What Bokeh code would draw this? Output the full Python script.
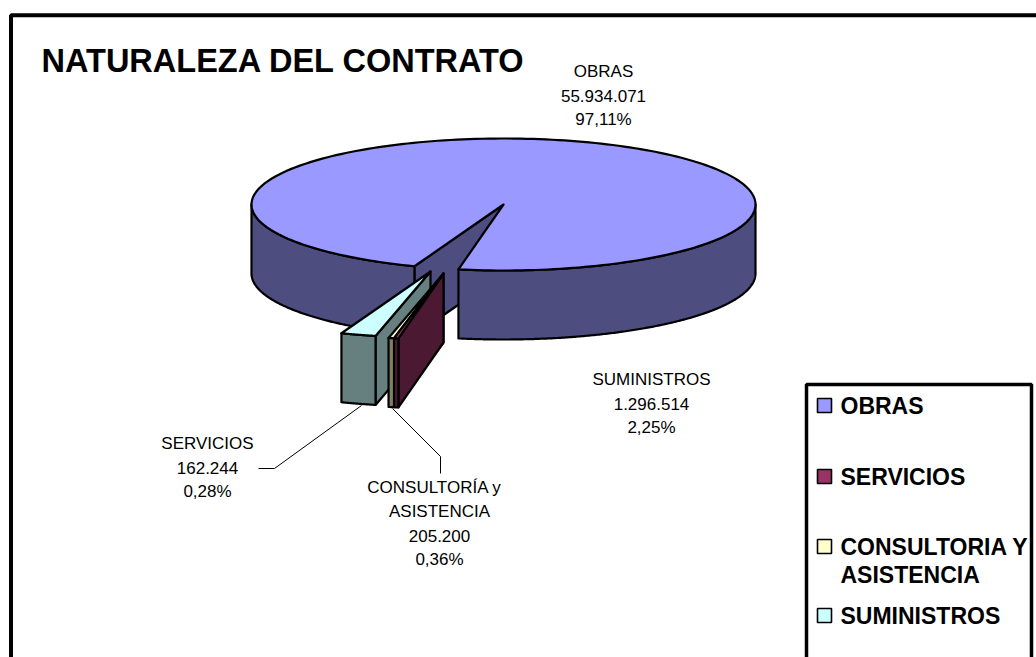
import math
from bokeh.plotting import figure
from bokeh.models import Range1d
from bokeh.core.properties import value
from bokeh.embed import file_html
from bokeh.resources import INLINE

# ---- data
categories = ["OBRAS", "SERVICIOS", "CONSULTORIA Y\nASISTENCIA", "SUMINISTROS"]
amounts = [55934071, 162244, 205200, 1296514]
amount_labels = ["55.934.071", "162.244", "205.200", "1.296.514"]
pct_labels = ["97,11%", "0,28%", "0,36%", "2,25%"]
label_names = ["OBRAS", "SERVICIOS", "CONSULTORÍA y\nASISTENCIA", "SUMINISTROS"]
top_colors = ["#9999FF", "#993366", "#FFFFCC", "#CCFFFF"]
side_colors = ["#4D4D7F", "#4C1933", "#7F7F66", "#667F7F"]
title = "NATURALEZA DEL CONTRATO"

# ---- layout
CX, CY, RX, RY, DEPTH = 503, 204, 252, 66, 69
START = math.radians(20.7)   # clockwise from south, first slice starts here (towards west)
explode = {0: (0, 0), 1: (-60, 69), 2: (-60, 69), 3: (-73, 67)}
FONT = "Liberation Sans"
LW = 2.2

p = figure(width=1036, height=657, x_range=Range1d(0, 1036), y_range=Range1d(657, 0),
           output_backend="svg", toolbar_location=None, min_border=0,
           outline_line_color=None, background_fill_color="white",
           border_fill_color="white")
p.axis.visible = False
p.grid.visible = False

# outer frame
p.line([10.5, 10.5, 1036], [657, 14.7, 14.7], line_color="black", line_width=4)

total = sum(amounts)
spans = [a / total * 2 * math.pi for a in amounts]
starts = [START + sum(spans[:i]) for i in range(len(spans))]


def pt(t, ox=0, oy=0, dz=0):
    # t measured clockwise seen from above, starting at south
    return (CX + ox - RX * math.sin(t), CY + oy + RY * math.cos(t) + dz)


def arc(a, b, ox, oy, dz=0, n=240):
    return [pt(a + (b - a) * k / n, ox, oy, dz) for k in range(n + 1)]


def poly(points, fill):
    p.patch([q[0] for q in points], [q[1] for q in points], fill_color=fill,
            line_color="black", line_width=LW, line_join="round")


def draw_slice(i):
    ox, oy = explode[i]
    a, b = starts[i], starts[i] + spans[i]
    apex = (CX + ox, CY + oy)
    apex_low = (CX + ox, CY + oy + DEPTH)
    # visible cut wall
    poly([apex, pt(a, ox, oy), pt(a, ox, oy, DEPTH), apex_low], side_colors[i])
    # outer wall: only the front-facing part
    if i == 0:
        w1 = arc(a, math.pi / 2, ox, oy)
        w1b = arc(a, math.pi / 2, ox, oy, DEPTH)
        poly(w1 + w1b[::-1], side_colors[i])
        w2 = arc(3 * math.pi / 2, b, ox, oy)
        w2b = arc(3 * math.pi / 2, b, ox, oy, DEPTH)
        poly(w2 + w2b[::-1], side_colors[i])
    else:
        w = arc(a, b, ox, oy)
        wb = arc(a, b, ox, oy, DEPTH)
        poly(w + wb[::-1], side_colors[i])
    # top
    poly([apex] + arc(a, b, ox, oy), top_colors[i])


# back to front
draw_slice(0)
draw_slice(3)
draw_slice(2)
draw_slice(1)

# leader lines
p.line([258, 274, 361], [468, 468, 405], line_color="black", line_width=1)
p.line([392, 440, 440], [408, 456, 473], line_color="black", line_width=1)

# title
p.text([41], [60], text=[title], text_font=value(FONT), text_font_style="bold",
       text_font_size="32.5px", text_baseline="middle", text_align="left", text_color="black")

# pie labels
label_pos = {0: (603, 71), 1: (207, 443), 2: (439, 487), 3: (651, 379)}
for i, (x, y) in label_pos.items():
    lines = label_names[i].split("\n") + [amount_labels[i], pct_labels[i]]
    for k, t in enumerate(lines):
        dx = -5 if t.startswith("CONSULTOR") else 0
        p.text([x + dx], [y + k * 24], text=[t], text_font=value(FONT), text_font_size="17px",
               text_baseline="middle", text_align="center", text_color="black")

# legend box
p.line([806, 806, 1031, 1031], [657, 384, 384, 657], line_color="black", line_width=3.5)
legend_y = [405, 476, 546, 615]
for i, y in enumerate(legend_y):
    p.scatter([824], [y], marker="square", size=14, fill_color=top_colors[i],
              line_color="black", line_width=1.6)
    for k, t in enumerate(categories[i].split("\n")):
        p.text([840], [y + k * 28], text=[t], text_font=value(FONT), text_font_style="bold",
               text_font_size="23px", text_baseline="middle", text_align="left", text_color="black")

open("out.html", "w").write(file_html(p, INLINE))
